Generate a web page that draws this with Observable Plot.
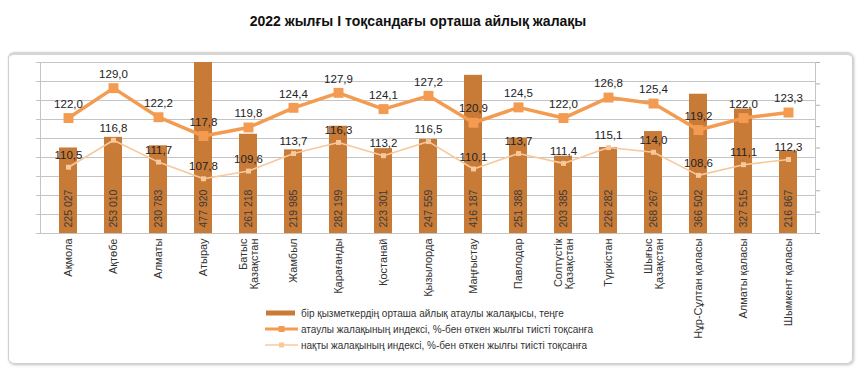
<!DOCTYPE html>
<html><head><meta charset="utf-8">
<script src="https://cdn.jsdelivr.net/npm/d3@7"></script>
<script src="https://cdn.jsdelivr.net/npm/@observablehq/plot@0.6"></script>
<style>
body{margin:0;background:#fff;}
#wrap{position:relative;width:860px;height:369px;overflow:hidden;font-family:"Liberation Sans",Arial,sans-serif;background:#fff;}
#box{position:absolute;left:8px;top:52px;width:843px;height:308px;border:1px solid #cfcfcf;border-top:3px solid #d6d6d6;border-radius:6px;box-shadow:1px 1px 3px rgba(0,0,0,.25);}
#title{position:absolute;left:0;width:836px;top:13px;text-align:center;font-weight:bold;font-size:14px;color:#111;font-family:"Liberation Sans",Arial,sans-serif;}
#chart{position:absolute;left:0;top:52px;}
#legend{position:absolute;left:265px;top:305px;font-size:10px;color:#333;font-family:"Liberation Sans",Arial,sans-serif;}
.row{height:16px;display:flex;align-items:center;white-space:nowrap}
.row svg{margin-right:3px}
</style>
</head><body>
<div id="wrap">
  <div id="title">2022 жылғы I тоқсандағы орташа айлық жалақы</div>
  <div id="box"></div>
  <div id="chart"></div>
  <div id="legend"></div>
</div>
<script>
const regions = ["Ақмола","Ақтөбе","Алматы","Атырау","Батыс\nҚазақстан","Жамбыл","Қарағанды","Қостанай","Қызылорда","Маңғыстау","Павлодар","Солтүстік\nҚазақстан","Түркістан","Шығыс\nҚазақстан","Нұр-Сұлтан қаласы","Алматы қаласы","Шымкент қаласы"];
const wages = [225027,253010,230783,477920,261218,219985,282199,223301,247559,416187,251388,203385,226282,268267,366502,327515,216867];
const nominalIndex = [122.0,129.0,122.2,117.8,119.8,124.4,127.9,124.1,127.2,120.9,124.5,122.0,126.8,125.4,119.2,122.0,123.3];
const realIndex = [110.5,116.8,111.7,107.8,109.6,113.7,116.3,113.2,116.5,110.1,113.7,111.4,115.1,114.0,108.6,111.1,112.3];
const leftTicks = [0,50000,100000,150000,200000,250000,300000,350000,400000,450000];
const rightTicks = [95,100,105,110,115,120,125,130,135];
const seriesNames = ["бір қызметкердің орташа айлық атаулы жалақысы, теңге","атаулы жалақының индексі, %-бен өткен жылғы тиісті тоқсанға","нақты жалақының индексі, %-бен өткен  жылғы тиісті тоқсанға"];

const colBar = "#C87A37", colNom = "#F39B50", colReal = "#F8C89B";
const barMax = 450000, rMin = 95, rMax = 135;
const toBar = v => (v - rMin) / (rMax - rMin) * barMax;
const fmt1 = v => v.toFixed(1).replace(".", ",");
const fmtW = v => d3.format(",")(v).replace(/,/g, " ");

const data = regions.map((r, i) => ({region: r, wage: wages[i], nom: nominalIndex[i], real: realIndex[i]}));

const chart = Plot.plot({
  width: 860, height: 285,
  marginLeft: 40, marginRight: 45, marginTop: 10, marginBottom: 104,
  style: {fontFamily: "Liberation Sans, Arial, sans-serif", fontSize: "11px", background: "transparent", overflow: "visible"},
  x: {domain: regions, paddingInner: 0.6, paddingOuter: 0.3, axis: null},
  y: {domain: [0, barMax], axis: null},
  marks: [
    Plot.gridY(leftTicks, {stroke: "#c4c4c4", strokeOpacity: 1}),
    Plot.frame({stroke: "#c4c4c4"}),
    Plot.axisY(leftTicks, {anchor: "left", tickSize: 4, tickFormat: () => "", stroke: "#c4c4c4", label: null}),
    Plot.axisY(rightTicks.map(toBar), {anchor: "right", tickSize: 4, tickFormat: () => "", stroke: "#b0b0b0", label: null}),
    Plot.axisX(regions, {tickSize: 0, tickPadding: 5, tickRotate: -90, fontSize: 11, fill: "#333", label: null}),
    Plot.barY(data, {x: "region", y: "wage", fill: colBar, clip: true}),
    Plot.text(data, {x: "region", y: 0, text: d => fmtW(d.wage), rotate: -90, textAnchor: "start", dy: -6, fontSize: 10.5, fill: "#3a3a3a"}),
    Plot.line(data, {x: "region", y: d => toBar(d.nom), stroke: colNom, strokeWidth: 3.5}),
    Plot.dot(data, {x: "region", y: d => toBar(d.nom), symbol: "square", r: 5.6, fill: colNom, stroke: "none"}),
    Plot.line(data, {x: "region", y: d => toBar(d.real), stroke: colReal, strokeWidth: 1.6}),
    Plot.dot(data, {x: "region", y: d => toBar(d.real), symbol: "square", r: 2.8, fill: colReal, stroke: "none"}),
    Plot.text(data, {x: "region", y: d => toBar(d.nom), text: d => fmt1(d.nom), dy: -14, fontSize: 11.5, fill: "#222"}),
    Plot.text(data, {x: "region", y: d => toBar(d.real), text: d => fmt1(d.real), dy: -12, fontSize: 11.5, fill: "#222"})
  ]
});
document.getElementById("chart").appendChild(chart);

const leg = document.getElementById("legend");
const swatches = [
  `<svg width="33" height="8"><rect x="1" y="1.5" width="29" height="5" fill="${colBar}"/></svg>`,
  `<svg width="33" height="8"><line x1="0" x2="33" y1="4" y2="4" stroke="${colNom}" stroke-width="3"/><rect x="13.5" y="1" width="6" height="6" fill="${colNom}"/></svg>`,
  `<svg width="33" height="8"><line x1="0" x2="33" y1="4" y2="4" stroke="${colReal}" stroke-width="1.5"/><rect x="14" y="1.5" width="5" height="5" fill="${colReal}"/></svg>`
];
seriesNames.forEach((n, i) => {
  const row = document.createElement("div");
  row.className = "row";
  row.innerHTML = swatches[i] + `<span>${n}</span>`;
  leg.appendChild(row);
});
</script>
</body></html>
